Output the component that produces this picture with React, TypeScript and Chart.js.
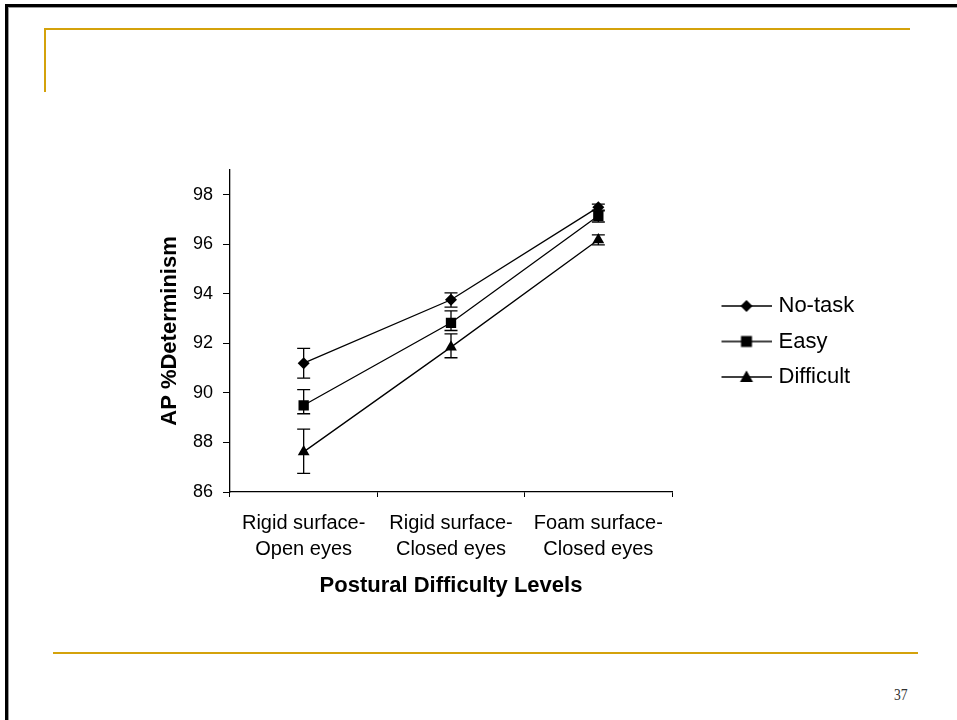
import React, { useEffect, useRef } from 'react';
import { Chart, registerables } from 'chart.js';

Chart.register(...registerables);

// ---- data ----
const categories = [
  ['Rigid surface-', 'Open eyes'],
  ['Rigid surface-', 'Closed eyes'],
  ['Foam surface-', 'Closed eyes'],
];
const seriesNames = ['No-task', 'Easy', 'Difficult'];
const noTask = [91.2, 93.76, 97.5];
const noTaskErrPlus = [0.6, 0.28, 0.12];
const noTaskErrMinus = [0.6, 0.3, 0.12];
const easy = [89.5, 92.83, 97.15];
const easyErrPlus = [0.63, 0.48, 0.2];
const easyErrMinus = [0.34, 0.31, 0.25];
const difficult = [87.62, 91.85, 96.18];
const difficultErrPlus = [0.92, 0.53, 0.2];
const difficultErrMinus = [0.87, 0.43, 0.2];
const yTicks = [86, 88, 90, 92, 94, 96, 98];
const yMin = 86;
const yMax = 99;
const xTitle = 'Postural Difficulty Levels';
const yTitle = 'AP %Determinism';
const pageNumber = '37';

const errPlus = [noTaskErrPlus, easyErrPlus, difficultErrPlus];
const errMinus = [noTaskErrMinus, easyErrMinus, difficultErrMinus];
const seriesValues = [noTask, easy, difficult];
const shapes = ['diamond', 'square', 'triangle'];

const FONT = "'Liberation Sans', Arial, sans-serif";
const GOLD = '#D4A20B';

const errorBarPlugin = {
  id: 'errorBars',
  beforeDatasetsDraw(chart: any) {
    const ctx = chart.ctx;
    const y = chart.scales.y;
    chart.data.datasets.forEach((ds: any, i: number) => {
      const meta = chart.getDatasetMeta(i);
      ctx.save();
      ctx.strokeStyle = '#000';
      ctx.lineWidth = 1.3;
      meta.data.forEach((pt: any, j: number) => {
        const v = ds.data[j];
        const top = y.getPixelForValue(v + errPlus[i][j]);
        const bot = y.getPixelForValue(v - errMinus[i][j]);
        const x = pt.x;
        ctx.beginPath();
        ctx.moveTo(x, top);
        ctx.lineTo(x, bot);
        ctx.moveTo(x - 6.5, top);
        ctx.lineTo(x + 6.5, top);
        ctx.moveTo(x - 6.5, bot);
        ctx.lineTo(x + 6.5, bot);
        ctx.stroke();
      });
      ctx.restore();
    });
  },
};

function makeLegendIcon(shape: string, width: number) {
  const c = document.createElement('canvas');
  c.width = width;
  c.height = 16;
  const g = c.getContext('2d')!;
  const y = 8;
  g.strokeStyle = '#000';
  g.lineWidth = 1.3;
  g.beginPath();
  g.moveTo(width - 50, y);
  g.lineTo(width, y);
  g.stroke();
  const cx = width - 25;
  g.fillStyle = '#000';
  g.beginPath();
  if (shape === 'diamond') {
    g.moveTo(cx, y - 6);
    g.lineTo(cx + 6, y);
    g.lineTo(cx, y + 6);
    g.lineTo(cx - 6, y);
  } else if (shape === 'square') {
    g.rect(cx - 5.5, y - 5.5, 11, 11);
  } else {
    g.moveTo(cx, y - 6.5);
    g.lineTo(cx + 6.5, y + 5);
    g.lineTo(cx - 6.5, y + 5);
  }
  g.closePath();
  g.fill();
  return c;
}

export default function App() {
  const ref = useRef<HTMLCanvasElement | null>(null);

  useEffect(() => {
    if (!ref.current) return;
    const BW = 82;
    const icons = shapes.map((s) => makeLegendIcon(s, BW + 8));
    const pointStyles = ['rectRot', 'rect', 'triangle'];
    const radii = [6, 7.3, 6.8];

    const chart = new Chart(ref.current, {
      type: 'line',
      data: {
        labels: categories,
        datasets: seriesNames.map((name, i) => ({
          label: name,
          data: seriesValues[i],
          borderColor: '#000',
          backgroundColor: '#000',
          borderWidth: 1.3,
          pointStyle: pointStyles[i],
          pointRadius: radii[i],
          pointBorderWidth: 0,
          pointBackgroundColor: '#000',
          pointBorderColor: '#000',
          tension: 0,
          fill: false,
        })),
      },
      options: {
        animation: false,
        responsive: false,
        events: [],
        font: { family: FONT },
        layout: { padding: { left: 150, top: 170, right: 100, bottom: 118 } },
        scales: {
          x: {
            type: 'category',
            offset: true,
            afterFit: (s: any) => {
              s.height = 110;
            },
            grid: {
              offset: true,
              drawOnChartArea: false,
              drawTicks: true,
              tickLength: 5,
              color: '#000',
              lineWidth: 1,
            },
            border: { display: true, color: '#000', width: 1.3 },
            ticks: {
              color: '#000',
              font: { family: FONT, size: 20, lineHeight: 1.3 },
              padding: 13,
              maxRotation: 0,
              autoSkip: false,
            },
            title: {
              display: true,
              text: xTitle,
              color: '#000',
              font: { family: FONT, size: 22, weight: 'bold', lineHeight: 1.2 },
              padding: { top: 0, bottom: 2.8 },
            },
          },
          y: {
            type: 'linear',
            min: yMin,
            max: yMax,
            afterFit: (s: any) => {
              s.width = 80;
            },
            afterBuildTicks: (s: any) => {
              s.ticks = yTicks.map((v) => ({ value: v }));
            },
            grid: {
              drawOnChartArea: false,
              drawTicks: true,
              tickLength: 7,
              color: '#000',
              lineWidth: 1,
            },
            border: { display: true, color: '#000', width: 1.3 },
            ticks: {
              color: '#000',
              font: { family: FONT, size: 18 },
              padding: 10,
            },
            title: {
              display: true,
              text: yTitle,
              color: '#000',
              font: { family: FONT, size: 22, weight: 'bold', lineHeight: 1.2 },
              padding: { top: 6.8, bottom: 0 },
            },
          },
        },
        plugins: {
          tooltip: { enabled: false },
          legend: {
            display: true,
            position: 'right',
            align: 'center',
            fullSize: false,
            maxWidth: 185,
            title: {
              display: true,
              text: '',
              font: { size: 10, lineHeight: 1 },
              padding: { top: 11, bottom: 0 },
            },
            labels: {
              usePointStyle: true,
              pointStyleWidth: BW,
              padding: 13.5,
              color: '#000',
              font: { family: FONT, size: 22 },
              generateLabels: (ch: any) =>
                ch.data.datasets.map((ds: any, i: number) => ({
                  text: ds.label,
                  pointStyle: icons[i],
                  fillStyle: '#000',
                  strokeStyle: '#000',
                  lineWidth: 0,
                  hidden: false,
                  datasetIndex: i,
                  fontColor: '#000',
                })),
            },
          },
        },
      },
      plugins: [errorBarPlugin],
    } as any);

    return () => chart.destroy();
  }, []);

  return (
    <div
      style={{
        position: 'fixed',
        left: 0,
        top: 0,
        width: 957,
        height: 720,
        background: '#fff',
        overflow: 'hidden',
      }}
    >
      <div style={{ position: 'absolute', left: 5, top: 4, width: 952, height: 3, background: '#000' }} />
      <div style={{ position: 'absolute', left: 5, top: 4, width: 3, height: 716, background: '#000' }} />
      <div style={{ position: 'absolute', left: 8, top: 7, width: 949, height: 1, background: '#9a9a9a' }} />
      <div style={{ position: 'absolute', left: 8, top: 7, width: 1, height: 713, background: '#9a9a9a' }} />
      <div style={{ position: 'absolute', left: 44, top: 28, width: 866, height: 2, background: GOLD }} />
      <div style={{ position: 'absolute', left: 44, top: 28, width: 2, height: 64, background: GOLD }} />
      <div style={{ position: 'absolute', left: 53, top: 652, width: 865, height: 2, background: GOLD }} />
      <div
        style={{
          position: 'absolute',
          left: 894,
          top: 686,
          fontFamily: "'Liberation Serif', serif",
          fontSize: 17,
          lineHeight: 1,
          color: '#333',
          transform: 'scaleX(0.8)',
          transformOrigin: 'left top',
        }}
      >
        {pageNumber}
      </div>
      <canvas ref={ref} width={957} height={720} style={{ position: 'absolute', left: 0, top: 0 }} />
    </div>
  );
}
